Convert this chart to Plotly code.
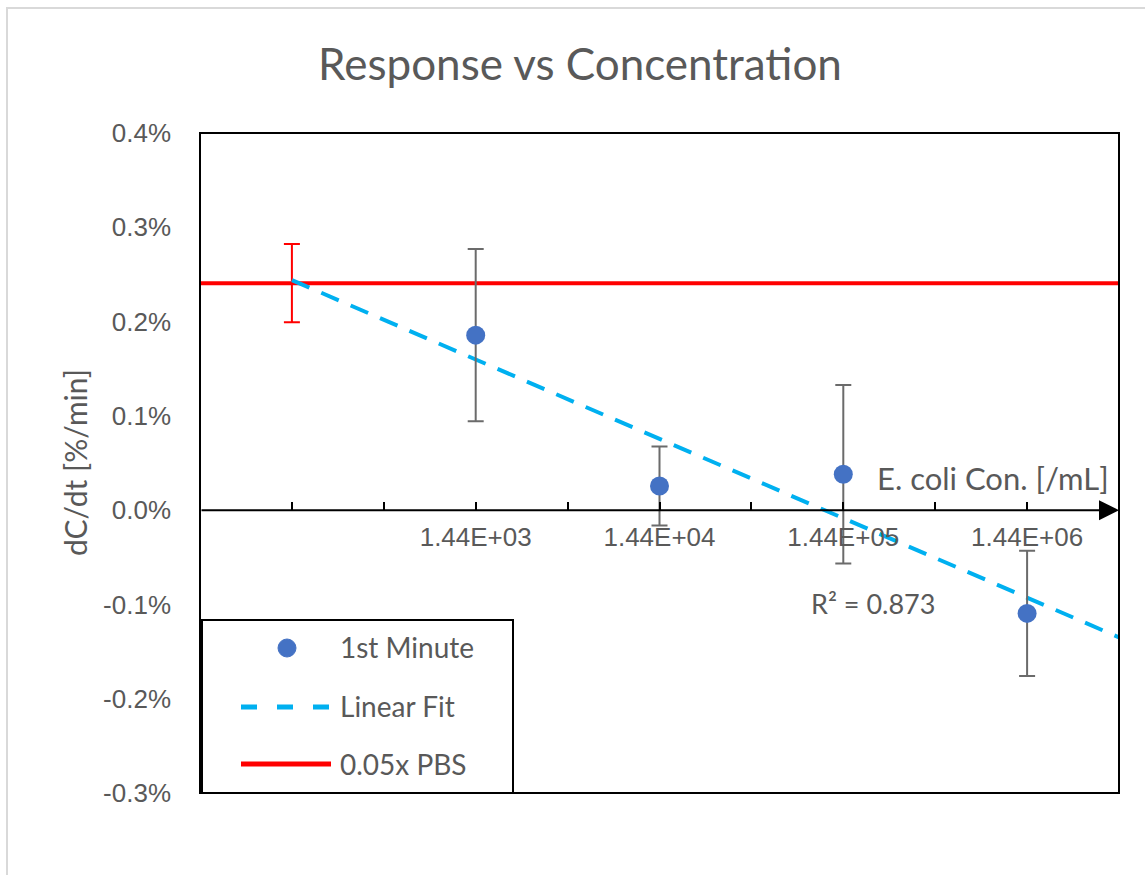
import plotly.graph_objects as go
import numpy as np

# ---- data (response in fraction units, displayed as %) ----
x_positions = [3, 5, 7, 9]
tick_labels = ["1.44E+03", "1.44E+04", "1.44E+05", "1.44E+06"]
response = [0.001856, 0.000256, 0.000380, -0.001095]
response_err = [0.000914, 0.000420, 0.000947, 0.000664]

pbs_x = 1
pbs_level = 0.002407
pbs_err = 0.000415

fit_slope = -0.000421
fit_intercept = 0.002861
fit_x = [1, 10]
r_squared = 0.873

y_ticks = [-0.003, -0.002, -0.001, 0, 0.001, 0.002, 0.003, 0.004]
y_tick_text = ["-0.3%", "-0.2%", "-0.1%", "0.0%", "0.1%", "0.2%", "0.3%", "0.4%"]

# ---- layout geometry (pixels) ----
W, H = 1145, 875
L, R, T, B = 200, 1119, 133, 793
PW, PH = R - L, B - T


def px(xp):
    return (xp - L) / PW


def py(yp):
    return (B - yp) / PH


GRAY = "#595959"
BODY_FONT = "Lato"
TICK_FONT = "Liberation Sans"

fig = go.Figure()

# PBS reference level
fig.add_trace(go.Scatter(
    x=[0, 10], y=[pbs_level, pbs_level], mode="lines",
    line=dict(color="#FF0000", width=4), hoverinfo="skip", showlegend=False,
))
fig.add_trace(go.Scatter(
    x=[pbs_x], y=[pbs_level], mode="markers",
    marker=dict(size=1, color="rgba(0,0,0,0)"),
    error_y=dict(type="data", array=[pbs_err], color="#FF0000",
                 thickness=2, width=8),
    showlegend=False,
))

# linear trend line
fit_y = [fit_intercept + fit_slope * v for v in fit_x]
fig.add_trace(go.Scatter(
    x=fit_x, y=fit_y, mode="lines",
    line=dict(color="#00B0F0", width=4, dash="19px,13px"),
    showlegend=False,
))

# measured points
fig.add_trace(go.Scatter(
    x=x_positions, y=response, mode="markers",
    marker=dict(size=19, color="#4472C4"),
    error_y=dict(type="data", array=response_err, color="#6B6B6B",
                 thickness=2, width=8),
    showlegend=False,
))

tickvals = list(range(1, 10))
ticktext = [tick_labels[x_positions.index(v)] if v in x_positions else ""
            for v in tickvals]

fig.update_layout(
    width=W, height=H,
    margin=dict(l=L, r=W - R, t=T, b=H - B),
    paper_bgcolor="white", plot_bgcolor="white",
    title=dict(text="Response vs Concentration",
               font=dict(family=BODY_FONT, size=44, color=GRAY),
               x=580 / W, xref="container", xanchor="center",
               y=1 - 65 / H, yref="container", yanchor="middle"),
    xaxis=dict(
        range=[0, 10], showgrid=False, zeroline=False, showline=False,
        anchor="free", position=py(B - 0.003 / 0.007 * PH),
        tickmode="array", tickvals=tickvals, ticktext=ticktext,
        ticks="inside", ticklen=8, tickwidth=2, tickcolor="black",
        tickfont=dict(family=TICK_FONT, size=26, color=GRAY),
        ticklabelstandoff=9,
    ),
    yaxis=dict(
        range=[-0.003, 0.004], showgrid=False, zeroline=False,
        showline=False, tickmode="array",
        tickvals=y_ticks, ticktext=y_tick_text, ticks="",
        tickfont=dict(family=TICK_FONT, size=26, color=GRAY),
        ticklabelstandoff=28,
    ),
)

shapes = []
# outer chart border
shapes.append(dict(type="rect", xref="paper", yref="paper",
                   x0=px(7), x1=px(1160), y0=py(890), y1=py(8),
                   line=dict(color="#D9D9D9", width=2), layer="below"))
# plot frame
shapes.append(dict(type="rect", xref="paper", yref="paper",
                   x0=0, x1=1, y0=0, y1=1,
                   line=dict(color="black", width=2)))

# legend box and symbols
shapes.append(dict(type="rect", xref="paper", yref="paper",
                   x0=px(202), x1=px(513), y0=py(793), y1=py(620),
                   fillcolor="white", line=dict(color="black", width=2)))
shapes.append(dict(type="circle", xref="paper", yref="paper",
                   x0=px(278), x1=px(296), y0=py(657), y1=py(639),
                   fillcolor="#4472C4", line=dict(color="#4472C4", width=1)))
shapes.append(dict(type="line", xref="paper", yref="paper",
                   x0=px(241), x1=px(331), y0=py(707), y1=py(707),
                   line=dict(color="#00B0F0", width=5, dash="16px,20px")))
shapes.append(dict(type="line", xref="paper", yref="paper",
                   x0=px(241), x1=px(331), y0=py(764), y1=py(764),
                   line=dict(color="#FF0000", width=5)))
fig.update_layout(shapes=shapes)

annotations = [
    # x axis line with arrow head
    dict(x=10, y=0, xref="x", yref="y", ax=0, ay=0, axref="x", ayref="y",
         showarrow=True, arrowhead=2, arrowsize=2, arrowwidth=2,
         arrowcolor="black", text=""),
    dict(text="E. coli Con. [/mL]", x=px(1111), y=py(478), xref="paper",
         yref="paper", xanchor="right", yanchor="middle", showarrow=False,
         font=dict(family=BODY_FONT, size=31, color=GRAY)),
    dict(text="R² = %.3f" % r_squared, x=px(873), y=py(603), xref="paper",
         yref="paper", xanchor="center", yanchor="middle", showarrow=False,
         font=dict(family=BODY_FONT, size=27, color=GRAY)),
    dict(text="dC/dt [%/min]", x=px(75), y=py(463), xref="paper",
         yref="paper", xanchor="center", yanchor="middle", showarrow=False,
         textangle=-90, font=dict(family=BODY_FONT, size=30, color=GRAY)),
]
for label, yp in [("1st Minute", 647), ("Linear Fit", 706), ("0.05x PBS", 764)]:
    annotations.append(dict(text=label, x=px(338), y=py(yp), xref="paper",
                            yref="paper", xanchor="left", yanchor="middle",
                            showarrow=False,
                            font=dict(family=BODY_FONT, size=28, color=GRAY)))
fig.update_layout(annotations=annotations)

fig.write_html("out.html")
